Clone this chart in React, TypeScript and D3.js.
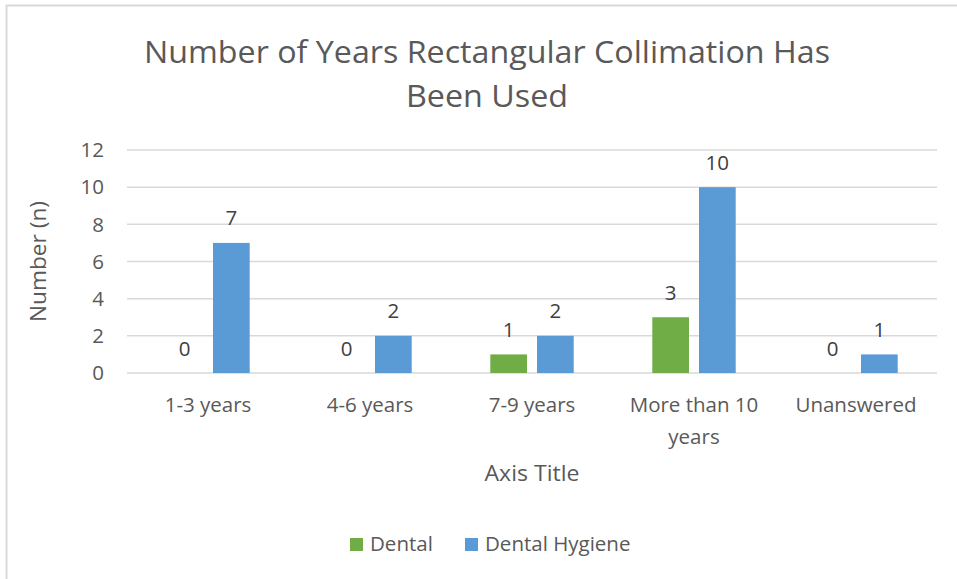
import React from "react";
import * as d3 from "d3";

const categories = ["1-3 years", "4-6 years", "7-9 years", "More than 10 years", "Unanswered"];
const categoryLines = [["1-3 years"], ["4-6 years"], ["7-9 years"], ["More than 10", "years"], ["Unanswered"]];
const seriesNames = ["Dental", "Dental Hygiene"];
const dentalValues = [0, 0, 1, 3, 0];
const hygieneValues = [7, 2, 2, 10, 1];
const yTicks = [0, 2, 4, 6, 8, 10, 12];
const colors = ["#70AD47", "#5B9BD5"];

const W = 957;
const H = 579;
const FONT = "'Open Sans', 'Noto Sans', sans-serif";
const TXT = "#595959";

export default function App() {
  const plotLeft = 127;
  const plotRight = 937;
  const plotTop = 150;
  const plotBottom = 373;

  const x = d3.scaleBand<string>().domain(categories).range([plotLeft, plotRight]).padding(0);
  const y = d3.scaleLinear().domain([0, 12]).range([plotBottom, plotTop]);
  const barW = 36.7;
  const gap = 5;
  const series = [dentalValues, hygieneValues];
  const fs = 20.5;

  return (
    <svg
      width={W}
      height={H}
      style={{ position: "absolute", left: 0, top: 0, background: "#fff" }}
      fontFamily={FONT}
    >
      <rect x={0} y={0} width={W} height={H} fill="#fff" />
      <path d={`M6.5,${H} L6.5,5.5 L${W},5.5`} fill="none" stroke="#d9d9d9" strokeWidth={2} />

      <text x={487} y={63} textAnchor="middle" fontSize={31} fill={TXT} textLength={686} lengthAdjust="spacingAndGlyphs">
        Number of Years Rectangular Collimation Has
      </text>
      <text x={487} y={107} textAnchor="middle" fontSize={31} fill={TXT} textLength={162} lengthAdjust="spacingAndGlyphs">
        Been Used
      </text>

      {yTicks.map((t) => (
        <g key={t}>
          <line x1={plotLeft} x2={plotRight} y1={y(t)} y2={y(t)} stroke="#d9d9d9" strokeWidth={1.5} />
          <text x={104} y={y(t)} dy="0.35em" textAnchor="end" fontSize={fs} fill={TXT}>
            {t}
          </text>
        </g>
      ))}

      <text
        transform={`translate(38,${(plotTop + plotBottom) / 2}) rotate(-90)`}
        textAnchor="middle"
        dy="0.35em"
        fontSize={22}
        fill={TXT}
        textLength={121}
        lengthAdjust="spacingAndGlyphs"
      >
        Number (n)
      </text>

      {categories.map((c, ci) => {
        const cx = (x(c) as number) + x.bandwidth() / 2;
        return (
          <g key={c}>
            {series.map((vals, si) => {
              const bx = si === 0 ? cx - gap - barW : cx + gap;
              const v = vals[ci];
              return (
                <g key={si}>
                  {v > 0 && (
                    <rect x={bx} y={y(v)} width={barW} height={y(0) - y(v)} fill={colors[si]} />
                  )}
                  <text x={bx + barW / 2} y={y(v) - 17.5} textAnchor="middle" fontSize={fs} fill="#404040">
                    {v}
                  </text>
                </g>
              );
            })}
            {categoryLines[ci].map((ln, li) => (
              <text key={li} x={cx} y={412 + li * 32} textAnchor="middle" fontSize={fs} fill={TXT}>
                {ln}
              </text>
            ))}
          </g>
        );
      })}

      <text x={532} y={481} textAnchor="middle" fontSize={22} fill={TXT} textLength={95} lengthAdjust="spacingAndGlyphs">
        Axis Title
      </text>

      {seriesNames.map((s, i) => {
        const lx = i === 0 ? 350 : 465;
        return (
          <g key={s}>
            <rect x={lx} y={538} width={13} height={13} fill={colors[i]} />
            <text x={lx + 20} y={551} fontSize={fs} fill={TXT}>
              {s}
            </text>
          </g>
        );
      })}
    </svg>
  );
}
